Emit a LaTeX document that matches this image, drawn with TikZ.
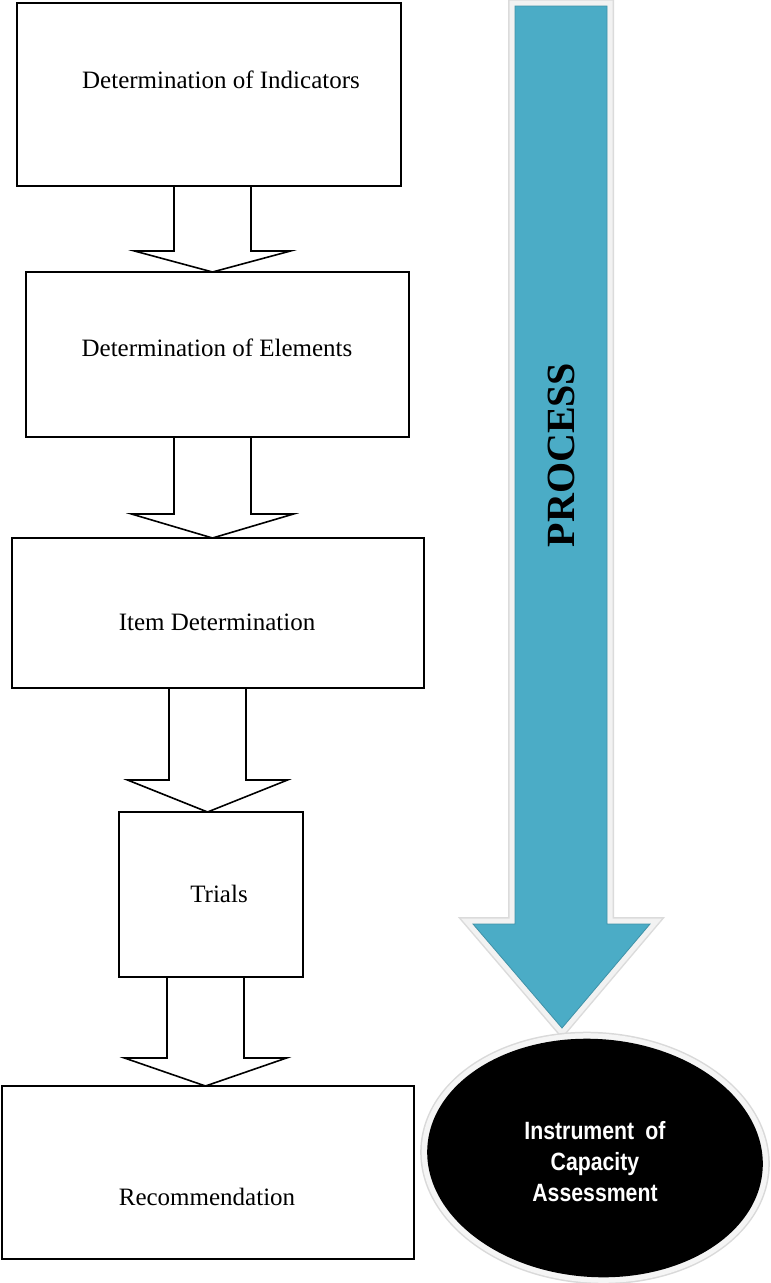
\documentclass[tikz,border=0pt]{standalone}
\usepackage{fontspec}
\setmainfont{Liberation Serif}
\newfontfamily\narrowsans[FakeStretch=0.85]{Liberation Sans}
\usetikzlibrary{calc,shapes.geometric}
\definecolor{aqua}{RGB}{75,172,198}
\newcommand{\blockarr}[6]{%
  \draw[blockarrow] let \p1=(#1.south), \p2=(#2.north) in
    ({#3-#4},\y1) -- ({#3-#4},\y2+#6pt) -- ({#3-#5},\y2+#6pt) -- (#3,\y2)
    -- ({#3+#5},\y2+#6pt) -- ({#3+#4},\y2+#6pt) -- ({#3+#4},\y1) -- cycle;}
\begin{document}
\begin{tikzpicture}[x=1pt,y=-1pt,
  box/.style={draw=black, line width=1.6pt, fill=white, inner sep=0pt, outer sep=0pt},
  lbl/.style={font=\fontsize{25}{30}\selectfont, inner sep=0pt},
  blockarrow/.style={draw=black, line width=1.6pt, fill=white, line join=miter}]
\useasboundingbox (0,0) rectangle (771,1283);
% boxes
\node[box, minimum width=384pt, minimum height=183pt] (b1) at (209,94.5) {};
\node[box, minimum width=383pt, minimum height=165pt] (b2) at (217.5,354.5) {};
\node[box, minimum width=412pt, minimum height=150pt] (b3) at (218,613) {};
\node[box, minimum width=184pt, minimum height=165pt] (b4) at (211,894.5) {};
\node[box, minimum width=412pt, minimum height=173pt] (b5) at (208,1172.5) {};
% labels
\node[lbl] (l1) at (221,80) {Determination of Indicators};
\node[lbl] (l2) at (217,348) {Determination of Elements};
\node[lbl] (l3) at (217,622) {Item Determination};
\node[lbl] (l4) at (219,894) {Trials};
\node[lbl] (l5) at (207,1197) {Recommendation};
% block arrows
\blockarr{b1}{b2}{212.5}{38.5}{78}{21}
\blockarr{b2}{b3}{212.5}{38.5}{81}{24}
\blockarr{b3}{b4}{207.5}{38.5}{80}{32}
\blockarr{b4}{b5}{205.5}{38.5}{81}{28}
% big process arrow
\path[preaction={draw=black!14, line width=14pt, line join=miter},
      preaction={draw=black!5, line width=11pt, line join=miter},
      fill=aqua, draw=aqua!85!black, line width=0.8pt, line join=miter]
  (515,6) -- (515,924) -- (473,924) -- (562,1028) -- (650,924) -- (607,924) -- (607,6) -- cycle;
\node[rotate=90, font=\bfseries\fontsize{40}{40}\selectfont, inner sep=0pt] (proc) at (561,455) {PROCESS};
% result ellipse
\node[ellipse, fill=black, minimum width=336pt, minimum height=238pt, inner sep=0pt,
      rotate=-4,
      preaction={draw=black!15, line width=14pt},
      preaction={draw=black!4, line width=11pt}] (ell) at (595,1158) {};
\node[text=white, align=center, inner sep=0pt,
      font=\narrowsans\bfseries\fontsize{25}{31}\selectfont] (ellt) at (595,1162)
  {Instrument\hspace{0.45em}of\\Capacity\\Assessment};
\end{tikzpicture}
\end{document}
